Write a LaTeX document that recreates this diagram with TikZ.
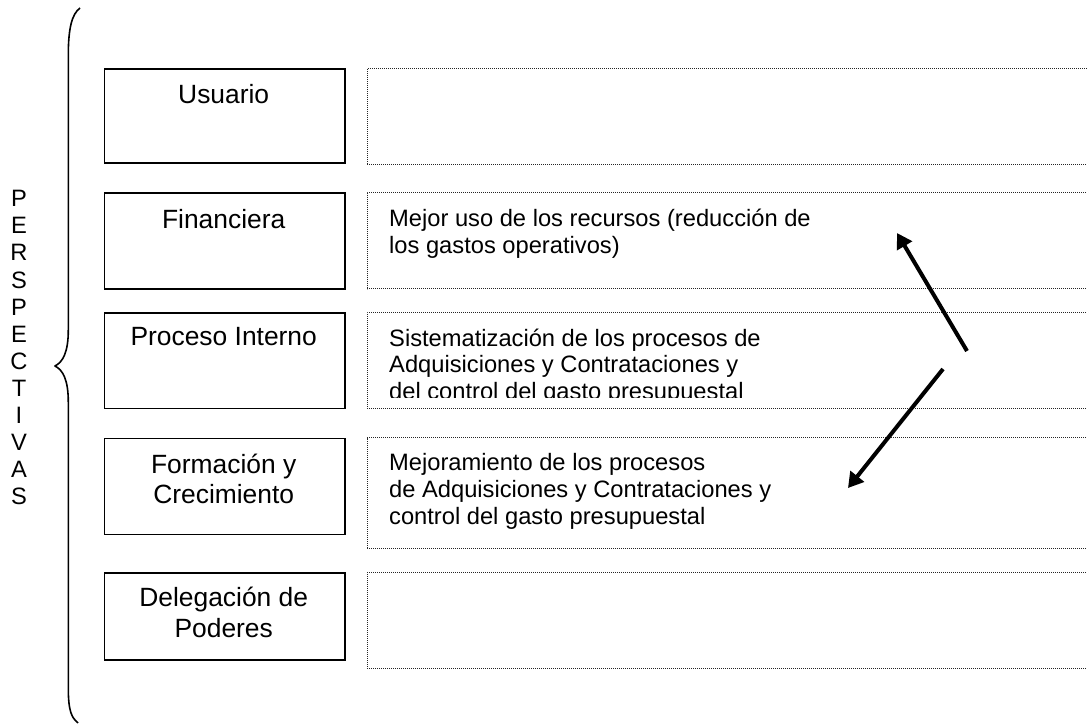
\documentclass[tikz,border=0pt]{standalone}
\usepackage{fontspec}
\setmainfont{Liberation Sans}
\usetikzlibrary{arrows.meta}
\tikzset{
  solidbox/.style={draw=black, line width=1.7pt, inner sep=0pt, anchor=north west, minimum width=240.5pt},
  dotbox/.style={draw=black!85, line width=0.9pt, dash pattern=on 0.9pt off 1.1pt, inner sep=0pt, anchor=north west, minimum width=760pt},
  boxtext/.style={anchor=base, inner sep=0pt, font=\fontsize{26.4}{30.5}\selectfont},
  dottext/.style={anchor=base west, inner sep=0pt, font=\fontsize{23.7}{26.7}\selectfont},
  lettertext/.style={anchor=base, inner sep=0pt, font=\fontsize{23.7}{27}\selectfont},
  bigarrow/.style={line width=4pt, -{Triangle[length=15pt, width=17pt]}},
  bracestyle/.style={line width=1.6pt, line join=round}
}
\begin{document}
\begin{tikzpicture}[x=1pt, y=-1pt]
  \useasboundingbox (0,0) rectangle (1087,725);
  \fill[white] (0,0) rectangle (1087,725);
  \clip (0,0) rectangle (1087,725);

  % brace
  \draw[bracestyle] (80,8) .. controls (72,14) and (68.3,28) .. (68.3,55)
    -- (68.3,330) .. controls (68.3,352) and (63,362) .. (55,366)
    .. controls (63,370) and (68.3,380) .. (68.3,402)
    -- (68.3,688) .. controls (68.3,712) and (72,718) .. (78,723);

  % vertical label
  \foreach \l [count=\i from 0] in {P,E,R,S,P,E,C,T,I,V,A,S}
    \node[lettertext] (letter\i) at (19, 206.7+\i*27.1) {\l};

  % solid boxes
  \node[solidbox, minimum height=94pt] (usuario) at (103.5,68) {};
  \node[solidbox, minimum height=96pt] (financiera) at (103.5,192) {};
  \node[solidbox, minimum height=95.5pt] (proceso) at (103.5,312) {};
  \node[solidbox, minimum height=96pt] (formacion) at (103.5,437.5) {};
  \node[solidbox, minimum height=87pt] (delegacion) at (103.5,572) {};

  \node[boxtext] (tusuario) at (223.7,103) {Usuario};
  \node[boxtext] (tfinanciera) at (223.7,228) {Financiera};
  \node[boxtext] (tproceso) at (223.7,345) {Proceso Interno};
  \node[boxtext] (tformacion) at (223.7,473.3) {\parbox[t]{236pt}{\centering Formación y\\Crecimiento}};
  \node[boxtext] (tdelegacion) at (223.7,606.7) {\parbox[t]{236pt}{\centering Delegación de\\Poderes}};

  % dotted boxes
  \node[dotbox, minimum height=95.5pt] (dusuario) at (367,68) {};
  \node[dotbox, minimum height=96pt] (dfinanciera) at (367,192.3) {};
  \node[dotbox, minimum height=96pt] (dproceso) at (367,312) {};
  \node[dotbox, minimum height=110.5pt] (dformacion) at (367,437.3) {};
  \node[dotbox, minimum height=96.3pt] (ddelegacion) at (367,572) {};

  \node[dottext] (xfinanciera) at (389,226.7) {\parbox[t]{600pt}{\raggedright Mejor uso de los recursos (reducción de\\los gastos operativos)}};
  \begin{scope}
    \clip (367,312) rectangle (1087,397.3);
    \node[dottext] (xproceso) at (389,346) {\parbox[t]{600pt}{\raggedright Sistematización de los procesos de\\Adquisiciones y Contrataciones y\\del control del gasto presupuestal}};
  \end{scope}
  \node[dottext] (xformacion) at (389,470.7) {\parbox[t]{600pt}{\raggedright Mejoramiento de los procesos\\de Adquisiciones y Contrataciones y\\control del gasto presupuestal}};

  % arrows
  \coordinate (a1s) at (967,351);
  \coordinate (a1e) at (897,233);
  \coordinate (a2s) at (943,369);
  \coordinate (a2e) at (848,488);
  \draw[bigarrow] (a1s) -- (a1e);
  \draw[bigarrow] (a2s) -- (a2e);
\end{tikzpicture}
\end{document}
